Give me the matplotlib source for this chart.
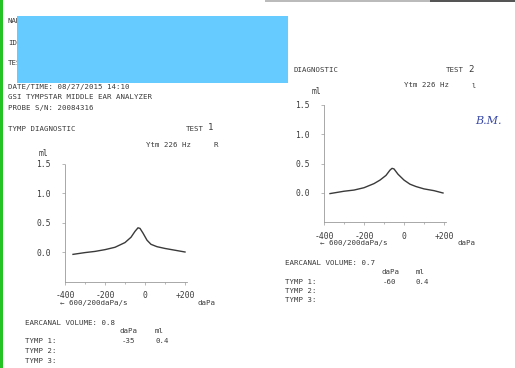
import matplotlib
matplotlib.use("Agg")
import matplotlib.pyplot as plt
from matplotlib.patches import Rectangle

plt.rcParams['font.family'] = ['DejaVu Sans Mono']

W, H = 515, 368
INK = '#3a3a3a'

# test 1 (right ear), pressure in daPa, admittance in ml
pres1 = [-360, -300, -250, -200, -150, -100, -70, -50, -35, -25, -10, 10, 30, 60, 100, 150, 200]
ytm1 = [-0.04, -0.01, 0.01, 0.04, 0.08, 0.16, 0.25, 0.35, 0.41, 0.40, 0.32, 0.20, 0.13, 0.09, 0.06, 0.03, 0.0]

# test 2
pres2 = [-370, -300, -250, -200, -150, -120, -90, -70, -60, -50, -30, 0, 30, 60, 100, 150, 195]
ytm2 = [-0.01, 0.03, 0.05, 0.09, 0.16, 0.22, 0.30, 0.39, 0.42, 0.41, 0.32, 0.22, 0.15, 0.11, 0.07, 0.04, 0.0]

yticks = [0.0, 0.5, 1.0, 1.5]
xticks = [-400, -200, 0, 200]
xticklabels = ['-400', '-200', '0', '+200']


def fx(x):
    return x / W


def fy(y):
    return 1 - y / H


def txt(x, y, s, size=5.3, **kw):
    fig.text(fx(x), fy(y), s, fontsize=size, color=INK, va='center', ha=kw.pop('ha', 'left'), **kw)


def tymp_axes(left, yzero, yunit, xs, ys):
    # 0.2 px per daPa, ylim -0.5 .. 1.5, yunit = px per 1 ml
    w = 610 * 0.2
    bottom = yzero + 0.5 * yunit
    h = 2.0 * yunit
    ax = fig.add_axes([fx(left), fy(bottom), w / W, h / H])
    ax.plot(xs, ys, color=INK, lw=1.0)
    ax.set_xlim(-400, 210)
    ax.set_ylim(-0.5, 1.5)
    ax.set_xticks(xticks)
    ax.set_xticklabels(xticklabels)
    ax.set_xticks([-300, -100, 100], minor=True)
    ax.set_yticks(yticks)
    ax.set_yticklabels(['%.1f' % v for v in yticks])
    for s in ['top', 'right']:
        ax.spines[s].set_visible(False)
    for s in ['left', 'bottom']:
        ax.spines[s].set_linestyle((0, (1, 1)))
        ax.spines[s].set_color('#9a9a9a')
        ax.spines[s].set_linewidth(0.6)
    ax.tick_params(axis='y', length=2, width=0.5, color='#9a9a9a', pad=8, labelsize=5.8, labelcolor=INK)
    ax.tick_params(axis='x', length=2, width=0.5, color='#9a9a9a', pad=5, labelsize=5.8, labelcolor=INK)
    ax.tick_params(which='minor', length=1.5, width=0.5, color='#9a9a9a')
    ax.patch.set_alpha(0)
    return ax


fig = plt.figure(figsize=(W / 100, H / 100), dpi=100)

# header block
txt(8, 21, 'NAME:')
txt(8, 43, 'ID:')
txt(8, 63, 'TESTER:')
txt(8, 87, 'DATE/TIME: 08/27/2015 14:10')
txt(8, 97, 'GSI TYMPSTAR MIDDLE EAR ANALYZER')
txt(8, 108, 'PROBE S/N: 20084316')

# test 1 block
txt(8, 129, 'TYMP DIAGNOSTIC')
txt(186, 129, 'TEST', size=5.3)
txt(208, 128, '1', size=6.5)
txt(146, 145, 'Ytm 226 Hz')
txt(213, 145, 'R')
txt(39, 153, 'ml', size=5.8)
ax1 = tymp_axes(65, 252, 59.0, pres1, ytm1)
txt(60, 303, '\u2190 600/200daPa/s', size=5.4)
txt(198, 303, 'daPa')
txt(25, 323, 'EARCANAL VOLUME: 0.8', size=5.4)
txt(120, 331, 'daPa')
txt(155, 331, 'ml')
txt(25, 341, 'TYMP 1:')
txt(122, 341, '-35')
txt(155, 341, '0.4')
txt(25, 351, 'TYMP 2:')
txt(25, 361, 'TYMP 3:')

# test 2 block
txt(293, 70, 'DIAGNOSTIC')
txt(446, 70, 'TEST', size=5.3)
txt(468, 69, '2', size=6.5)
txt(404, 85, 'Ytm 226 Hz')
txt(472, 86, 'l', size=5)
txt(312, 92, 'ml', size=5.8)
ax2 = tymp_axes(324, 193, 58.7, pres2, ytm2)
txt(320, 243, '\u2190 600/200daPa/s', size=5.4)
txt(458, 243, 'daPa')
txt(285, 263, 'EARCANAL VOLUME: 0.7', size=5.4)
txt(382, 272, 'daPa')
txt(416, 272, 'ml')
txt(285, 282, 'TYMP 1:')
txt(383, 282, '-60')
txt(416, 282, '0.4')
txt(285, 291, 'TYMP 2:')
txt(285, 300, 'TYMP 3:')

# handwritten initials
fig.text(fx(475), fy(121), 'B.M.', fontsize=8, color='#3848a8', family='DejaVu Serif',
         style='italic', va='center')

# redaction box, scan border and edge
fig.patches.append(Rectangle((fx(17), fy(83)), 271 / W, 67 / H, transform=fig.transFigure,
                             facecolor='#66ccff', edgecolor='none', zorder=10))
fig.patches.append(Rectangle((0, 0), 2.5 / W, 1, transform=fig.transFigure,
                             facecolor='#22c322', edgecolor='none', zorder=10))
fig.patches.append(Rectangle((fx(265), fy(2)), 250 / W, 2 / H, transform=fig.transFigure,
                             facecolor='#bbbbbb', edgecolor='none', zorder=9))
fig.patches.append(Rectangle((fx(430), fy(2)), 85 / W, 2 / H, transform=fig.transFigure,
                             facecolor='#555555', edgecolor='none', zorder=10))

fig.savefig('out.png', dpi=100)
